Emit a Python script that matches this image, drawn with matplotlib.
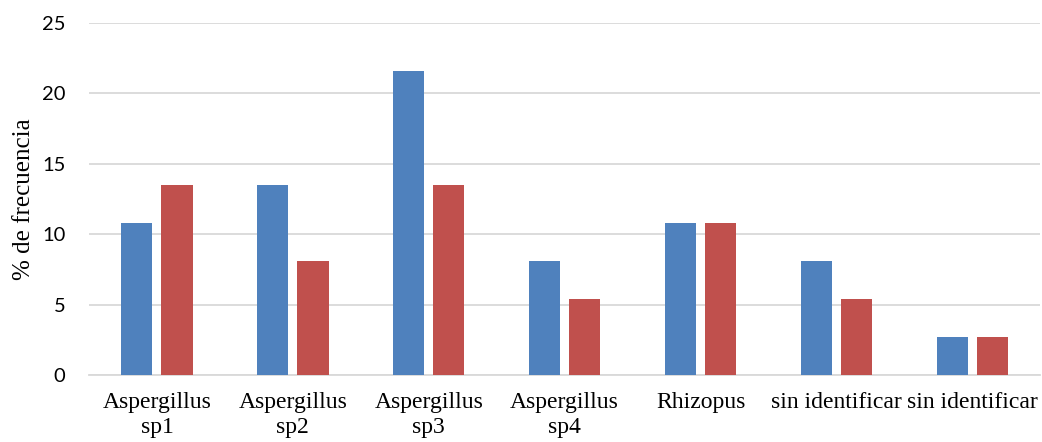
import matplotlib
matplotlib.use("Agg")
import matplotlib.pyplot as plt
import numpy as np

categories = ["Aspergillus\nsp1", "Aspergillus\nsp2", "Aspergillus\nsp3", "Aspergillus\nsp4",
              "Rhizopus", "sin identificar", "sin identificar"]
serie_a = [10.81, 13.51, 21.62, 8.11, 10.81, 8.11, 2.70]
serie_b = [13.51, 8.11, 13.51, 5.41, 10.81, 5.41, 2.70]
y_ticks = [0, 5, 10, 15, 20, 25]

fig = plt.figure(figsize=(10.42, 4.42), dpi=100)
ax = fig.add_axes([0.0854, 0.1516, 0.913, 0.7964])

x = np.arange(len(categories))
w = 0.23
off = 0.148
ax.bar(x - off, serie_a, width=w, color="#4F81BD", zorder=3)
ax.bar(x + off, serie_b, width=w, color="#C0504D", zorder=3)

ax.set_xlim(-0.5, len(categories) - 0.5)
ax.set_ylim(0, 25)
ax.set_yticks(y_ticks)
ax.yaxis.grid(True, color="#D9D9D9", linewidth=1.3, zorder=0)
ax.set_axisbelow(True)
for s in ["top", "right", "left"]:
    ax.spines[s].set_visible(False)
ax.spines["bottom"].set_color("#D9D9D9")
ax.spines["bottom"].set_linewidth(1.3)
ax.tick_params(axis="both", length=0)
ax.tick_params(axis="y", pad=17)
ax.tick_params(axis="x", pad=12)

ax.set_xticks(x)
ax.set_xticklabels(categories, family="Liberation Serif", fontsize=17, linespacing=1.3)
for lbl in ax.get_yticklabels():
    lbl.set_family("Lato")
    lbl.set_fontsize(14.5)
    lbl.set_color("#000000")

ax.set_ylabel("% de frecuencia", family="Liberation Serif", fontsize=18)
ax.yaxis.set_label_coords(-0.057, 0.5)

fig.savefig("out.png", dpi=100)
